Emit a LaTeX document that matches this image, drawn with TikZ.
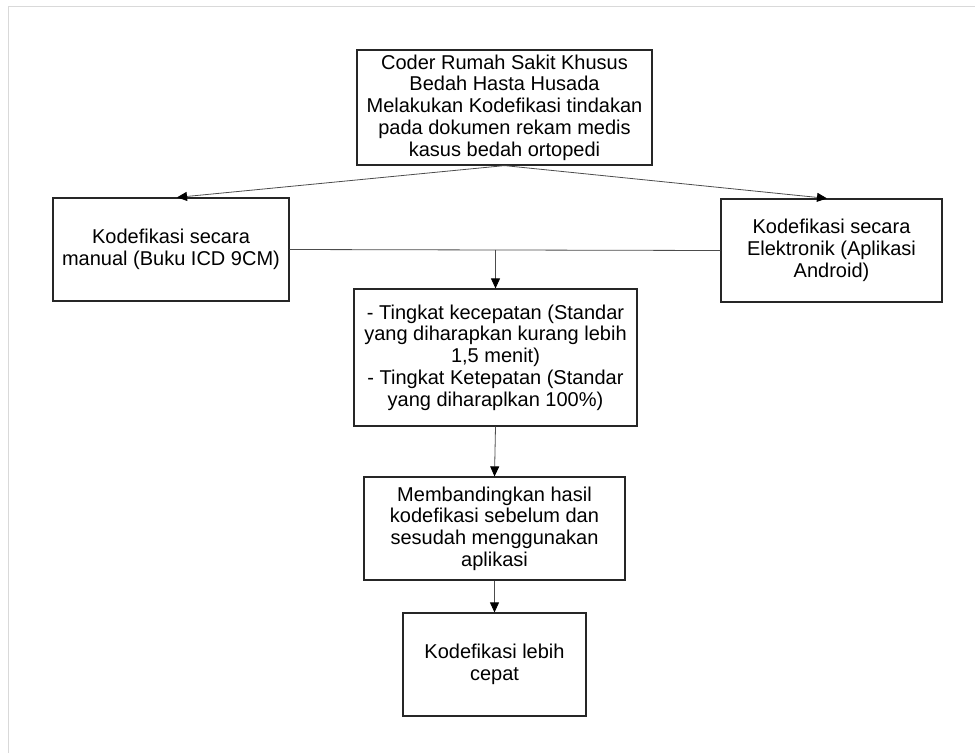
\documentclass[tikz,border=0pt]{standalone}
\usepackage{fontspec}
\setmainfont{Liberation Sans}
\usetikzlibrary{positioning, arrows.meta}

\begin{document}
\begin{tikzpicture}[x=1pt, y=-1pt,
    box/.style={draw=black!85, line width=1.2pt, align=center, inner sep=0pt,
        font=\fontsize{20}{21.7}\selectfont},
    conn/.style={draw=black!70, line width=0.8pt},
    arr/.style={conn, -{Triangle[length=10pt, width=9pt, color=black]}}]
    \useasboundingbox (0,0) rectangle (975,753);

    % Frame
    \draw[black!15, line width=1pt] (8,753) -- (8,6) -- (975,6);

    % Boxes
    \node[box, minimum width=295pt, minimum height=115pt] (coder) at (504.5,107.5)
        {Coder Rumah Sakit Khusus\\ Bedah Hasta Husada\\ Melakukan Kodefikasi tindakan\\
         pada dokumen rekam medis\\ kasus bedah ortopedi};
    \node[box, minimum width=236pt, minimum height=103pt] (manual) at (171,249.5)
        {Kodefikasi secara\\ manual (Buku ICD 9CM)};
    \node[box, minimum width=221pt, minimum height=103pt] (elektronik) at (831.5,250.5)
        {Kodefikasi secara\\ Elektronik (Aplikasi\\ Android)};
    \node[box, minimum width=283pt, minimum height=137pt] (tingkat) at (495.5,357.5)
        {- Tingkat kecepatan (Standar\\ yang diharapkan kurang lebih\\ 1,5 menit)\\
         - Tingkat Ketepatan (Standar\\ yang diharaplkan 100\%)};
    \node[box, minimum width=261pt, minimum height=103pt] (banding) at (494.5,528.5)
        {Membandingkan hasil\\ kodefikasi sebelum dan\\ sesudah menggunakan\\ aplikasi};
    \node[box, minimum width=183pt, minimum height=103pt] (cepat) at (494.5,664.5)
        {Kodefikasi lebih\\ cepat};

    % Connectors
    \draw[arr] (coder.south) -- ([xshift=6pt]manual.north);
    \draw[arr] (coder.south) -- ([xshift=-4.5pt]elektronik.north);
    \draw[conn] (manual.east) -- (elektronik.west);
    \coordinate (cabang) at (tingkat.north |- manual.east);
    \draw[arr] (cabang) -- (tingkat.north);
    \draw[arr] (tingkat.south) -- (banding.north);
    \draw[arr] (banding.south) -- (cepat.north);

\end{tikzpicture}
\end{document}
